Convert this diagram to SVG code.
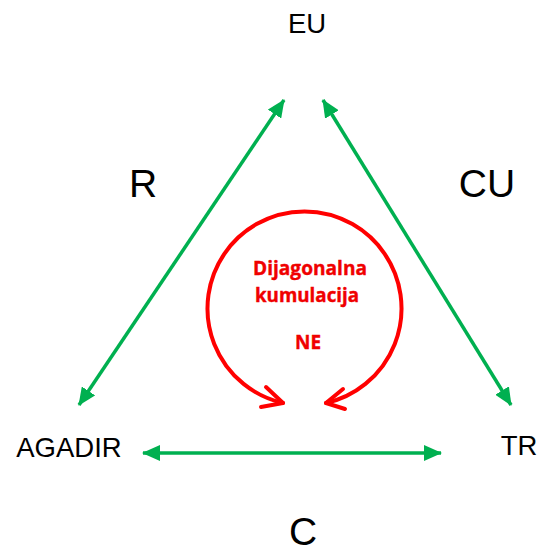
<svg xmlns="http://www.w3.org/2000/svg" width="541" height="556" viewBox="0 0 541 556">
<style>
.g{stroke:#00B050;stroke-width:3.5;fill:none;marker-start:url(#ga);marker-end:url(#ga)}
.lbl{font-family:"Liberation Sans",Arial,sans-serif;fill:#000;text-anchor:middle}
.big{font-size:39px}
.sm{font-size:27.5px}
.red{font-family:"Open Sans","Liberation Sans",sans-serif;font-weight:bold;font-size:19.5px;fill:#F00000;stroke:#F00000;stroke-width:0.4;text-anchor:middle}
.rc{stroke:#FF0000;stroke-width:4;fill:none;stroke-linecap:round;stroke-linejoin:round}
</style>
<defs>
<marker id="ga" markerUnits="userSpaceOnUse" viewBox="0 0 18 16" refX="17" refY="8" markerWidth="18" markerHeight="16" orient="auto-start-reverse">
<path d="M0,0 L18,8 L0,16 Z" fill="#00B050"/>
</marker>
</defs>
<g id="connectors">
<line class="g" x1="79" y1="405" x2="284" y2="100"/>
<line class="g" x1="323" y1="100" x2="511" y2="405"/>
<line class="g" x1="143" y1="453" x2="441" y2="453"/>
</g>
<g id="cycle">
<path class="rc" d="M283,403 A97,97 0 1 1 326,403"/>
<path class="rc" d="M266,387 L283,403 L261,407"/>
<path class="rc" d="M343,389 L326,403 L345,409"/>
</g>
<g id="node-eu"><text class="lbl sm" x="307" y="33">EU</text></g>
<g id="node-agadir"><text class="lbl sm" x="69" y="457">AGADIR</text></g>
<g id="node-tr"><text class="lbl sm" x="519" y="455">TR</text></g>
<g id="label-r"><text class="lbl big" x="143" y="197">R</text></g>
<g id="label-cu"><text class="lbl big" x="487" y="197">CU</text></g>
<g id="label-c"><text class="lbl big" x="303" y="545">C</text></g>
<g id="label-center">
<text class="red" x="310" y="275" textLength="114" lengthAdjust="spacingAndGlyphs">Dijagonalna</text>
<text class="red" x="307" y="302" textLength="104" lengthAdjust="spacingAndGlyphs">kumulacija</text>
<text class="red" x="308" y="349" textLength="26" lengthAdjust="spacingAndGlyphs">NE</text>
</g>
</svg>
